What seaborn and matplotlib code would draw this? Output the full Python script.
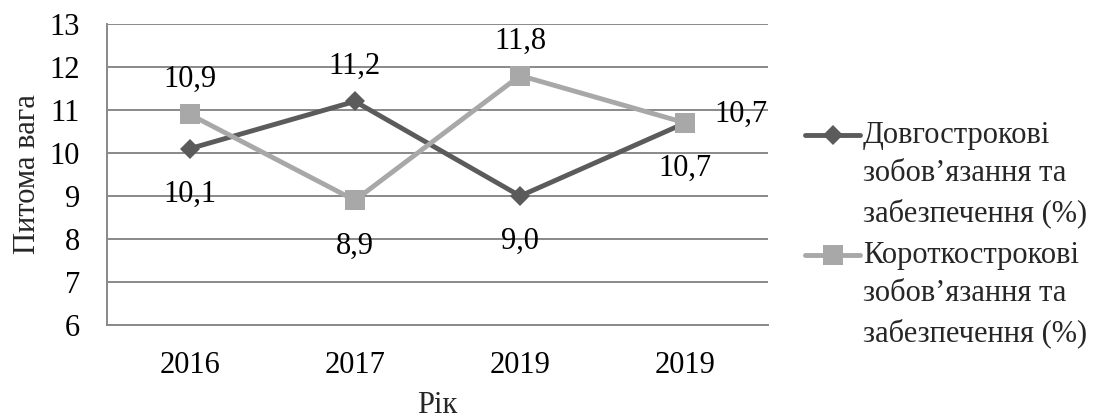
import numpy as np
import matplotlib
matplotlib.use("Agg")
import matplotlib.pyplot as plt
import seaborn as sns
from matplotlib.lines import Line2D
from matplotlib.legend_handler import HandlerLine2D

# Chart data
years = ["2016", "2017", "2019", "2019"]
long_term = [10.1, 11.2, 9.0, 10.7]
short_term = [10.9, 8.9, 11.8, 10.7]
series_names = [
    "Довгострокові\nзобов’язання та\nзабезпечення (%)",
    "Короткострокові\nзобов’язання та\nзабезпечення (%)",
]
long_label_pos = ["below", "above", "below", "right"]
short_label_pos = ["above", "below", "above", "below"]

DARK = "#5B5B5B"
LIGHT = "#A8A8A8"
GRID = "#898989"

sns.set_theme(style="white")
plt.rcParams["font.family"] = ["Liberation Serif", "DejaVu Serif"]
plt.rcParams["font.size"] = 22


class FirstLineHandler(HandlerLine2D):
    """Legend handle aligned with the first line of a multi-line label."""

    def __init__(self, shift, **kw):
        super().__init__(**kw)
        self.shift = shift

    def create_artists(self, legend, orig_handle, xdescent, ydescent,
                       width, height, fontsize, trans):
        artists = super().create_artists(legend, orig_handle, xdescent, ydescent,
                                         width, height, fontsize, trans)
        for a in artists:
            a.set_ydata(np.asarray(a.get_ydata(), dtype=float) + self.shift)
        return artists


fig = plt.figure(figsize=(11.11, 4.18), dpi=100)
ax = fig.add_axes([0.0963, 0.2225, 0.595, 0.7201])

idx = np.arange(len(years))
sns.lineplot(x=idx, y=long_term, ax=ax, color=DARK, linewidth=3.5,
             marker="D", markersize=10.5, markeredgewidth=0, label=series_names[0],
             estimator=None, sort=False, zorder=3)
sns.lineplot(x=idx, y=short_term, ax=ax, color=LIGHT, linewidth=3.5,
             marker="s", markersize=14, markeredgewidth=0, label=series_names[1],
             estimator=None, sort=False, zorder=4)

offsets = {"above": (0, 25, "center"), "below": (0, -33, "center"),
           "right": (21, 6, "left")}


def fmt(v):
    return f"{v:.1f}".replace(".", ",")


for vals, poss in ((long_term, long_label_pos), (short_term, short_label_pos)):
    for i, (v, p) in enumerate(zip(vals, poss)):
        dx, dy, ha = offsets[p]
        ax.annotate(fmt(v), (i, v), xytext=(dx, dy), textcoords="offset points",
                    ha=ha, va="center", fontsize=22, color="black", zorder=5)

# Axes, ticks and grid
ax.set_xlim(-0.5, len(years) - 0.5)
ax.set_ylim(6, 13)
ax.set_yticks(np.arange(6, 14, 1))
ax.set_xticks(idx, years)
ax.set_xticks(np.arange(-0.5, len(years), 1), minor=True)
ax.tick_params(axis="x", which="major", length=0, pad=19, labelsize=22, colors="black")
ax.tick_params(axis="x", which="minor", length=6.5, width=1.4, color=GRID, direction="out")
ax.tick_params(axis="y", length=6.5, width=1.4, color=GRID, direction="out",
               pad=13, labelsize=22, labelcolor="black")
ax.yaxis.grid(True, color=GRID, linewidth=1.4)
ax.set_axisbelow(True)
for side in ("top", "right"):
    ax.spines[side].set_visible(False)
for side in ("left", "bottom"):
    ax.spines[side].set_color(GRID)
    ax.spines[side].set_linewidth(1.4)

ax.set_ylabel("Питома вага", fontsize=22, va="center")
ax.yaxis.set_label_coords(-0.12, 0.5)
ax.set_xlabel("Рік", fontsize=22, va="center")
ax.xaxis.set_label_coords(0.5, -0.267)

handles, labels = ax.get_legend_handles_labels()
leg = ax.legend(handles, labels, loc="upper left", bbox_to_anchor=(0.7246, 0.711),
                bbox_transform=fig.transFigure, frameon=False, borderpad=0,
                borderaxespad=0, handlelength=1.8, handletextpad=0.1,
                labelspacing=0.4, fontsize=22,
                handler_map={Line2D: FirstLineHandler(shift=28.8)})
for t in leg.get_texts():
    t.set_linespacing(1.44)

fig.savefig("out.png", dpi=100, facecolor="white")
